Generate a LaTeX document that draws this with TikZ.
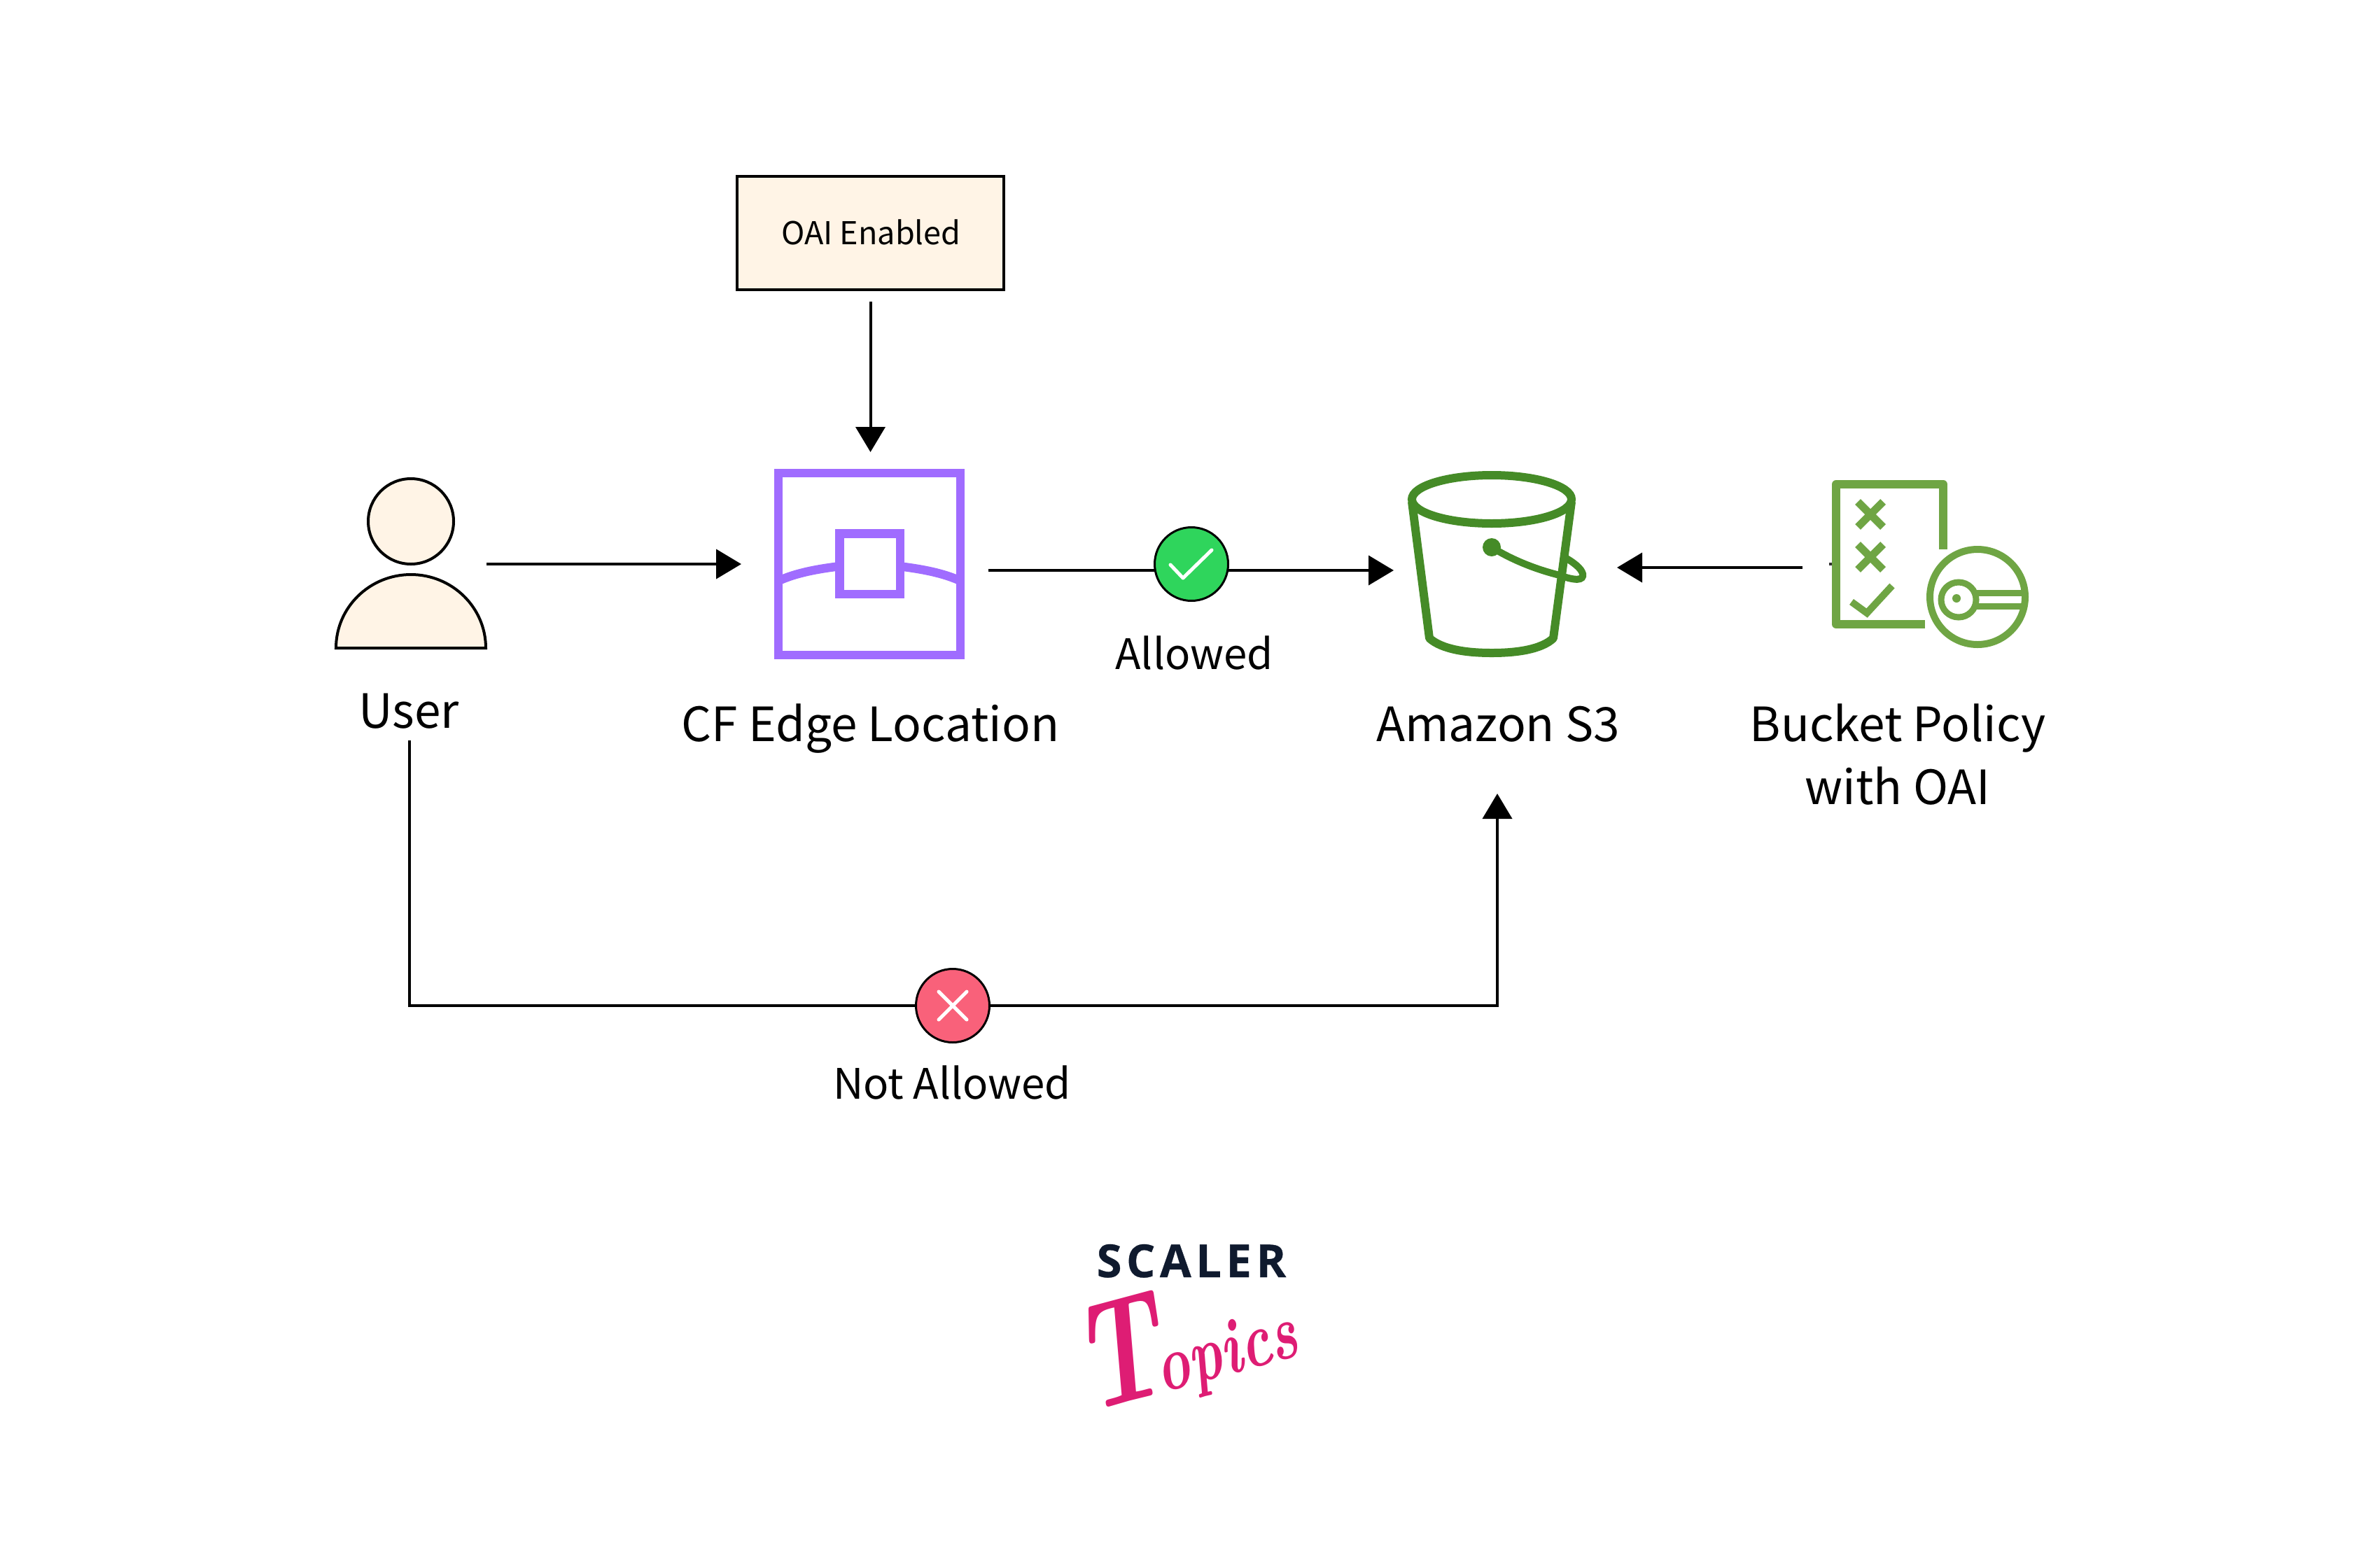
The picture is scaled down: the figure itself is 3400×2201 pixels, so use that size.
\documentclass[tikz,border=0pt]{standalone}
\usepackage{fontspec}
\setmainfont{Noto Sans CJK SC}
\newfontfamily\scalerfont[LetterSpace=10,FakeBold=0.5]{Open Sans}
\newfontfamily\topicsfont{Latin Modern Roman}
\usetikzlibrary{arrows.meta,calc,backgrounds}
\definecolor{cream}{HTML}{FFF4E6}
\definecolor{okgreen}{HTML}{2FD55C}
\definecolor{nored}{HTML}{F9617A}
\definecolor{edgepurple}{HTML}{A06CFF}
\definecolor{bucketgreen}{HTML}{458B27}
\definecolor{policygreen}{HTML}{6FA544}
\definecolor{scalernavy}{HTML}{0F1A2E}
\definecolor{topicspink}{HTML}{DE1D74}
\tikzset{
  conn/.style={line width=4pt,draw=black,-{Triangle[length=36pt,width=42pt]}},
  lbl/.style={inner sep=0pt,outer sep=0pt,anchor=base,font=\fontsize{67.5}{90}\selectfont},
  smalllbl/.style={lbl,font=\fontsize{60}{80}\selectfont},
  spot/.style={circle,draw=black,line width=3pt,minimum size=105pt,inner sep=0pt,outer sep=0pt},
  mark line/.style={draw=white,line width=5pt},
  hidden box/.style={rectangle,inner sep=0pt,outer sep=0pt},
  edge line/.style={draw=edgepurple,line width=12.5pt},
  bucket line/.style={draw=bucketgreen,line width=12pt},
  policy line/.style={draw=policygreen,line width=10pt},
  person/.style={draw=black,line width=4pt,fill=cream}
}
\begin{document}
\begin{tikzpicture}[x=1pt,y=-1pt]
\useasboundingbox (0,0) rectangle (3400,2201);

% OAI box
\node[rectangle,draw=black,fill=cream,line width=4pt,minimum width=381pt,minimum height=162pt,inner sep=0pt,outer sep=0pt,
      font=\fontsize{45}{54}\selectfont,text height=33pt,text depth=0pt] (oai) at (1243.5,333) {\hspace{2pt}OAI Enabled};

% User icon
\node[hidden box,minimum width=218pt,minimum height=220pt] (user) at (587,806) {};
\node[circle,person,minimum size=122pt,inner sep=0pt] (head) at (587,745) {};
\draw[person] (480,926) .. controls (480,868) and (528,821) .. (587,821)
              .. controls (646,821) and (694,868) .. (694,926) -- cycle;

% CF edge icon
\draw[edge line] (1112,830) .. controls (1135,820) and (1165,811) .. (1242,805);
\draw[edge line] (1372,830) .. controls (1349,820) and (1319,811) .. (1242,805);
\node[rectangle,edge line,minimum size=260pt,inner sep=0pt,outer sep=0pt] (edge) at (1242,806) {};
\node[rectangle,edge line,fill=white,minimum size=86.5pt,inner sep=0pt,outer sep=0pt] (edgecore) at (1242.5,805.5) {};

% Bucket icon
\node[hidden box,minimum width=240pt,minimum height=266pt] (bucket) at (2131,806) {};
\draw[bucket line] (2131,713.5) ellipse [x radius=114,y radius=34.5];
\draw[bucket line,line join=round] (2017,717) -- (2042,912) .. controls (2060,928) and (2095,933) .. (2131,933)
     .. controls (2167,933) and (2202,928) .. (2219,912) -- (2245,717);
\fill[bucketgreen] (2131,782) circle [radius=13];
\draw[draw=bucketgreen,line width=10pt] (2131,782) .. controls (2165,803) and (2200,815) .. (2228,822)
     .. controls (2250,830) and (2263,830) .. (2261,820) .. controls (2259,812) and (2248,804) .. (2238,798);

% Policy icon
\node[hidden box,minimum width=274pt,minimum height=246pt] (policy) at (2754,800) {};
\draw[draw=policygreen,line width=12pt,line join=round] (2750,892) -- (2623,892) -- (2623,692) -- (2776,692) -- (2776,785);
\draw[policy line,line width=11pt] (2654,717) -- (2690,753) (2690,717) -- (2654,753);
\draw[policy line,line width=11pt] (2654,778) -- (2690,814) (2690,778) -- (2654,814);
\draw[policy line] (2645,860) -- (2667,876) -- (2703,837);
\draw[policy line] (2825,853) circle [radius=68];
\draw[policy line,line width=9pt] (2798,857) circle [radius=25];
\fill[policygreen] (2795,855) circle [radius=6];
\draw[policy line,line width=9pt] (2822,847) -- (2890,847) (2822,866) -- (2890,866);
\fill[black!80] (2613,804) rectangle (2617,808);

% Status spots
\node[spot,fill=okgreen] (allowed) at (1702,806) {};
\draw[mark line,line cap=round,line join=round] (1672,807) -- (1690,826) -- (1731,786);
\node[spot,fill=nored] (denied) at (1361,1437) {};
\draw[mark line,line cap=round] (1341,1417) -- (1381,1457) (1381,1417) -- (1341,1457);

% Labels
\node[lbl] (userlabel) at (584,1040) {User};
\node[lbl] (edgelabel) at (1243.5,1059) {CF Edge Location};
\node[smalllbl] (allowedlabel) at (1706,956) {Allowed};
\node[lbl] (s3label) at (2140,1059) {Amazon S3};
\node[lbl] (policylabel1) at (2711,1059) {Bucket Policy};
\node[lbl] (policylabel2) at (2711,1149) {with OAI};
\node[smalllbl] (deniedlabel) at (1360,1570) {Not Allowed};

% Connector ends
\coordinate (userout) at ($(user.south)+(-2,142)$);
\coordinate (edgeout) at ($(edge.east)+(40,9)$);
\coordinate (s3in) at ($(bucket.west)+(-20,9)$);
\coordinate (s3under) at ($(s3label.base)+(-1,75)$);
\coordinate (policyout) at ($(policy.west)+(-42,11)$);
\coordinate (s3right) at ($(bucket.east)+(59,5)$);

% Connectors
\begin{scope}[on background layer]
\draw[conn,shorten <=17pt,shorten >=30pt] (oai.south) -- (oai.south |- edge.north);
\draw[conn,shorten <=-1pt,shorten >=53pt] (user.east) -- (edge.west);
\draw[conn] (edgeout) -- (s3in);
\draw[conn] (policyout) -- (s3right);
\draw[conn] (userout) -- (userout |- denied) -- (s3under |- denied) -- (s3under);
\end{scope}

% Logo
\node[inner sep=0pt,anchor=base,text=scalernavy] (scaler) at (1702,1825)
  {\scalerfont\bfseries\fontsize{65}{70}\selectfont SCALER};
\node[inner sep=0pt,anchor=center,text=topicspink,rotate=15] (topics) at (1691,1918)
  {\scalebox{0.72}[1]{\topicsfont\bfseries\itshape\fontsize{112}{120}\selectfont{\fontsize{215}{220}\selectfont T}\kern-18pt opics}};
\end{tikzpicture}
\end{document}
